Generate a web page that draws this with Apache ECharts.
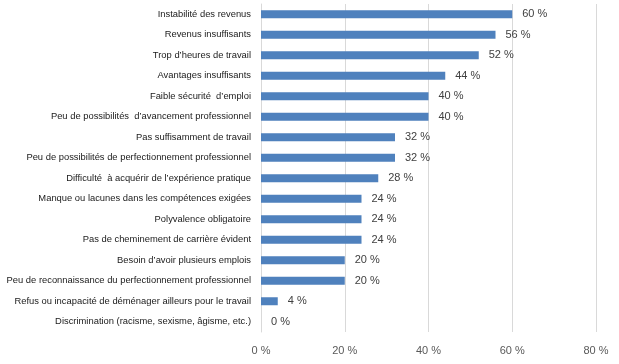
<!DOCTYPE html>
<html><head><meta charset="utf-8">
<script src="https://cdn.jsdelivr.net/npm/echarts@6/dist/echarts.min.js"></script>
<style>html,body{margin:0;padding:0;background:#fff}#c{width:619px;height:364px}</style>
</head><body><div id="c"></div>
<script>
const categories = [
  "Instabilité des revenus",
  "Revenus insuffisants",
  "Trop d’heures de travail",
  "Avantages insuffisants",
  "Faible sécurité  d’emploi",
  "Peu de possibilités  d’avancement professionnel",
  "Pas suffisamment de travail",
  "Peu de possibilités de perfectionnement professionnel",
  "Difficulté  à acquérir de l’expérience pratique",
  "Manque ou lacunes dans les compétences exigées",
  "Polyvalence obligatoire",
  "Pas de cheminement de carrière évident",
  "Besoin d’avoir plusieurs emplois",
  "Peu de reconnaissance du perfectionnement professionnel",
  "Refus ou incapacité de déménager ailleurs pour le travail",
  "Discrimination (racisme, sexisme, âgisme, etc.)"
];
const values = [60, 56, 52, 44, 40, 40, 32, 32, 28, 24, 24, 24, 20, 20, 4, 0];
const xTicks = [0, 20, 40, 60, 80];

const chart = echarts.init(document.getElementById('c'));
chart.setOption({
  animation: false,
  grid: { left: 261, right: 23, top: 4, bottom: 32, containLabel: false },
  xAxis: {
    type: 'value', min: xTicks[0], max: xTicks[xTicks.length-1], interval: 20,
    axisLine: { show: false }, axisTick: { show: false },
    splitLine: { lineStyle: { color: '#d9d9d9', width: 1 } },
    axisLabel: { formatter: '{value} %', color: '#595959', fontFamily: 'Liberation Sans', fontSize: 11, margin: 13 }
  },
  yAxis: {
    type: 'category', data: categories, inverse: true,
    axisLine: { show: true, lineStyle: { color: '#d9d9d9' } },
    axisTick: { show: false },
    axisLabel: { color: '#1a1a1a', fontFamily: 'Liberation Sans', fontSize: 9.4, margin: 10 }
  },
  series: [{
    type: 'bar', data: values, barWidth: 8,
    itemStyle: { color: '#4f81bd' },
    label: { show: true, position: 'right', distance: 10, formatter: '{c} %', color: '#404040', fontFamily: 'Liberation Sans', fontSize: 11 }
  }]
});
</script></body></html>
